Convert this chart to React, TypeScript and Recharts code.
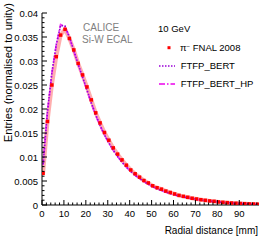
import { ComposedChart, Line, XAxis, YAxis } from "recharts";

// bin centres [mm]
const radius = [
  0.5, 2.5, 4.5, 6.5, 8.5, 10.5, 12.5, 14.5, 16.5, 18.5, 20.5, 22.5, 24.5, 26.5, 28.5, 30.5, 32.5,
  34.5, 36.5, 38.5, 40.5, 42.5, 44.5, 46.5, 48.5, 50.5, 52.5, 54.5, 56.5, 58.5, 60.5, 62.5, 64.5,
  66.5, 68.5, 70.5, 72.5, 74.5, 76.5, 78.5, 80.5, 82.5, 84.5, 86.5, 88.5, 90.5, 92.5, 94.5, 96.5,
  98.5,
];

// pi- FNAL 2008 data
const fnal = [
  0.0066, 0.0174, 0.025, 0.0309, 0.0354, 0.0366, 0.0347, 0.0323, 0.0295, 0.0271, 0.0246, 0.0219,
  0.0192, 0.0171, 0.0151, 0.0135, 0.0119, 0.0106, 0.0094, 0.0083, 0.0073, 0.0065, 0.0058, 0.0051,
  0.0046, 0.004, 0.0036, 0.0033, 0.0029, 0.0026, 0.0023, 0.002, 0.0018, 0.0016, 0.0014, 0.00125,
  0.0011, 0.00097, 0.00085, 0.00076, 0.00064, 0.00056, 0.00049, 0.00042, 0.00036, 0.00031, 0.00027,
  0.00023, 0.0002, 0.00017,
];

// FTFP_BERT
const bert = [
  0.0085, 0.0195, 0.0275, 0.0334, 0.0374, 0.0373, 0.035, 0.0322, 0.0293, 0.0267, 0.024, 0.0213,
  0.0188, 0.0166, 0.0146, 0.0129, 0.0114, 0.0101, 0.0089, 0.0079, 0.007, 0.0062, 0.0055, 0.0049,
  0.0043, 0.0038, 0.0034, 0.003, 0.0027, 0.0024, 0.0021, 0.0019, 0.0017, 0.0015, 0.00133, 0.00118,
  0.00104, 0.00092, 0.00081, 0.00072, 0.00063, 0.00055, 0.00048, 0.00042, 0.00036, 0.00031, 0.00027,
  0.00023, 0.0002, 0.00017,
];

// FTFP_BERT_HP
const bertHp = [
  0.0083, 0.0193, 0.0274, 0.0333, 0.0376, 0.0371, 0.0349, 0.0321, 0.0293, 0.0266, 0.0239, 0.0212,
  0.0187, 0.0165, 0.0146, 0.0129, 0.0114, 0.0101, 0.009, 0.0079, 0.007, 0.0062, 0.0055, 0.0049,
  0.0044, 0.0038, 0.0034, 0.003, 0.0027, 0.0024, 0.0021, 0.0019, 0.0017, 0.0015, 0.00134, 0.00118,
  0.00104, 0.00092, 0.00082, 0.00072, 0.00063, 0.00055, 0.00048, 0.00042, 0.00036, 0.00031, 0.00027,
  0.00023, 0.0002, 0.00017,
];

const xLabels = [0, 10, 20, 30, 40, 50, 60, 70, 80, 90];
const yLabels = [0, 0.005, 0.01, 0.015, 0.02, 0.025, 0.03, 0.035, 0.04];

const data = radius.map((r, i) => ({ r, fnal: fnal[i], bert: bert[i], hp: bertHp[i] }));

// minor ticks every 2 mm / every 0.001
const xTicks: number[] = [];
for (let i = 0; i <= 98; i += 2) xTicks.push(i);
const yTicks: number[] = [];
for (let i = 0; i <= 40; i++) yTicks.push(i / 1000);

const font = "'Liberation Sans', Arial, sans-serif";
const isMajorX = (v: number) => xLabels.includes(v);
const isMajorY = (v: number) => yLabels.some((l) => Math.abs(l - v) < 1e-9);

function BottomTick({ x, y, payload }: any) {
  const major = isMajorX(payload.value);
  return (
    <g>
      <line x1={x} x2={x} y1={y} y2={y - (major ? 5 : 2.5)} stroke="#000" />
      {major && (
        <text x={x} y={y + 12} textAnchor="middle" fontSize={9.5} fontFamily={font} fill="#000">
          {payload.value}
        </text>
      )}
    </g>
  );
}

function TopTick({ x, y, payload }: any) {
  const major = isMajorX(payload.value);
  return <line x1={x} x2={x} y1={y} y2={y + (major ? 5 : 2.5)} stroke="#000" />;
}

function LeftTick({ x, y, payload }: any) {
  const major = isMajorY(payload.value);
  return (
    <g>
      <line x1={x} x2={x + (major ? 5 : 2.5)} y1={y} y2={y} stroke="#000" />
      {major && (
        <text x={x - 4} y={y + 3.5} textAnchor="end" fontSize={9.5} fontFamily={font} fill="#000">
          {payload.value}
        </text>
      )}
    </g>
  );
}

function RightTick({ x, y, payload }: any) {
  const major = isMajorY(payload.value);
  return <line x1={x} x2={x - (major ? 5 : 2.5)} y1={y} y2={y} stroke="#000" />;
}

function Marker({ cx, cy }: any) {
  if (cx == null || cy == null) return null;
  return <rect x={cx - 1.75} y={cy - 1.75} width={3.5} height={3.5} fill="#ff0000" />;
}

export default function App() {
  return (
    <div style={{ position: "relative", width: 274, height: 240, background: "#fff" }}>
      <style>{"body{margin:0}"}</style>
      <ComposedChart width={274} height={240} data={data} margin={{ top: 13, right: 15, bottom: 5, left: 2 }}>
        <XAxis
          xAxisId="b"
          dataKey="r"
          type="number"
          domain={[0, 99]}
          ticks={xTicks}
          interval={0}
          tickSize={0}
          tickMargin={0}
          height={30}
          tick={(p: any) => <BottomTick {...p} />}
          axisLine={{ stroke: "#000" }}
          allowDataOverflow
        />
        <XAxis
          xAxisId="t"
          orientation="top"
          dataKey="r"
          type="number"
          domain={[0, 99]}
          ticks={xTicks}
          interval={0}
          tickSize={0}
          tickMargin={0}
          height={0}
          tick={(p: any) => <TopTick {...p} />}
          axisLine={{ stroke: "#000" }}
          allowDataOverflow
        />
        <YAxis
          yAxisId="l"
          type="number"
          domain={[0, 0.04]}
          ticks={yTicks}
          interval={0}
          tickSize={0}
          tickMargin={0}
          width={40}
          tick={(p: any) => <LeftTick {...p} />}
          axisLine={{ stroke: "#000" }}
          allowDataOverflow
        />
        <YAxis
          yAxisId="r"
          orientation="right"
          type="number"
          domain={[0, 0.04]}
          ticks={yTicks}
          interval={0}
          tickSize={0}
          tickMargin={0}
          width={0}
          tick={(p: any) => <RightTick {...p} />}
          axisLine={{ stroke: "#000" }}
          allowDataOverflow
        />
        <Line
          xAxisId="b"
          yAxisId="l"
          dataKey="fnal"
          type="linear"
          stroke="#ff9a9a"
          strokeWidth={4}
          strokeOpacity={0.8}
          dot={false}
          isAnimationActive={false}
        />
        <Line
          xAxisId="b"
          yAxisId="l"
          dataKey="hp"
          type="linear"
          stroke="#f040f0"
          strokeWidth={1.8}
          strokeDasharray="6 2 1.5 2"
          dot={false}
          isAnimationActive={false}
        />
        <Line
          xAxisId="b"
          yAxisId="l"
          dataKey="bert"
          type="linear"
          stroke="#9a00d8"
          strokeWidth={1.6}
          strokeDasharray="1.5 1.5"
          dot={false}
          isAnimationActive={false}
        />
        <Line
          xAxisId="b"
          yAxisId="l"
          dataKey="fnal"
          type="linear"
          stroke="none"
          dot={(p: any) => <Marker key={p.index} {...p} />}
          isAnimationActive={false}
        />
      </ComposedChart>
      <svg width={274} height={240} style={{ position: "absolute", left: 0, top: 0, pointerEvents: "none" }}>
        <g fontFamily={font} fill="#000">
          <text x={8} y={3} transform="rotate(-90 8 3)" dy={3.8} textAnchor="end" fontSize={11.2}>
            Entries (normalised to unity)
          </text>
          <text x={258} y={234} textAnchor="end" fontSize={10}>
            Radial distance [mm]
          </text>
          <text x={83} y={30.7} fontSize={10} fill="#808080">CALICE</text>
          <text x={82} y={42.7} fontSize={10} fill="#808080">Si-W ECAL</text>
          <text x={158} y={32.3} fontSize={9.5}>10 GeV</text>
          <rect x={167.5} y={46.2} width={3} height={3} fill="#ff0000" />
          <text x={180} y={51} fontSize={9.5}>
            π<tspan dy={-3.5} fontSize={6}>−</tspan>
            <tspan dy={3.5}> FNAL 2008</tspan>
          </text>
          <line x1={159} x2={175} y1={66} y2={66} stroke="#9a00d8" strokeWidth={1.6} strokeDasharray="1.5 1.5" />
          <text x={180.7} y={69} fontSize={9.5}>FTFP_BERT</text>
          <line x1={159} x2={175} y1={84} y2={84} stroke="#f040f0" strokeWidth={1.8} strokeDasharray="6 2 1.5 2" />
          <text x={180.7} y={87} fontSize={9.5}>FTFP_BERT_HP</text>
        </g>
      </svg>
    </div>
  );
}
